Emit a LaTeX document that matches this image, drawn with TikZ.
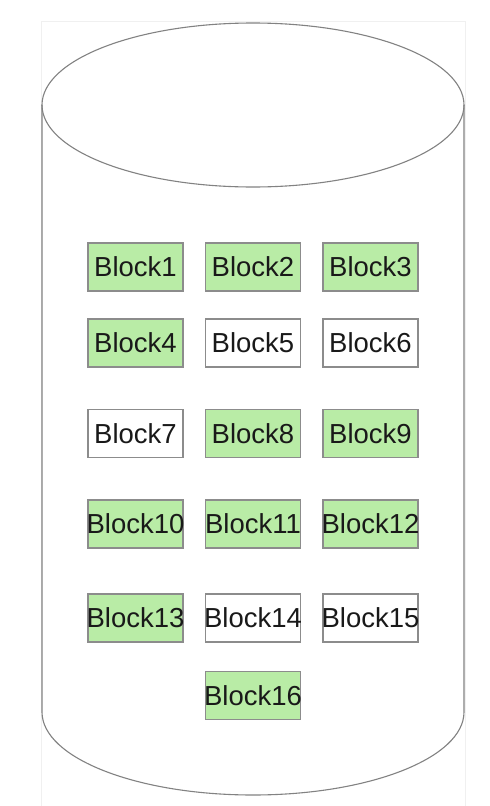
\documentclass[tikz,border=0pt]{standalone}
\usepackage{fontspec}
\setmainfont{Liberation Sans}
\definecolor{blkgreen}{RGB}{185,236,166}
\definecolor{blkline}{RGB}{140,140,140}
\definecolor{cylline}{RGB}{130,130,130}
\definecolor{txt}{RGB}{25,25,25}
\newcommand{\fitbox}[1]{\makebox[93pt][c]{#1}}
\begin{document}
\begin{tikzpicture}[x=1pt,y=-1pt,
  blk/.style={draw=blkline,line width=1.1pt,minimum width=95pt,minimum height=48pt,inner sep=0pt,
    font=\fontsize{27.5}{27.5}\selectfont,text=txt},
  used/.style={blk,fill=blkgreen},
  free/.style={blk,fill=white}]
\useasboundingbox (0,0) rectangle (490,806);
\fill[white] (0,0) rectangle (490,806);
\draw[draw=black!6,fill=white,line width=1pt] (41,21) rectangle (465,830);
% cylinder
\draw[cylline,line width=1.1pt] (253,105) ellipse [x radius=211, y radius=82];
\draw[cylline,line width=1.1pt] (42,105) -- (42,712) arc[start angle=180,end angle=360,x radius=211,y radius=-83] -- (464,105);
% blocks
\node[used] (b1) at (135.5,267) {\fitbox{Block1}};
\node[used] (b2) at (253,267) {\fitbox{Block2}};
\node[used] (b3) at (370.5,267) {\fitbox{Block3}};
\node[used] (b4) at (135.5,343) {\fitbox{Block4}};
\node[free] (b5) at (253,343) {\fitbox{Block5}};
\node[free] (b6) at (370.5,343) {\fitbox{Block6}};
\node[free] (b7) at (135.5,433.5) {\fitbox{Block7}};
\node[used] (b8) at (253,433.5) {\fitbox{Block8}};
\node[used] (b9) at (370.5,433.5) {\fitbox{Block9}};
\node[used] (b10) at (135.5,524) {\fitbox{Block10}};
\node[used] (b11) at (253,524) {\fitbox{Block11}};
\node[used] (b12) at (370.5,524) {\fitbox{Block12}};
\node[used] (b13) at (135.5,618) {\fitbox{Block13}};
\node[free] (b14) at (253,618) {\fitbox{Block14}};
\node[free] (b15) at (370.5,618) {\fitbox{Block15}};
\node[used] (b16) at (253,695.5) {\fitbox{Block16}};
\end{tikzpicture}
\end{document}
